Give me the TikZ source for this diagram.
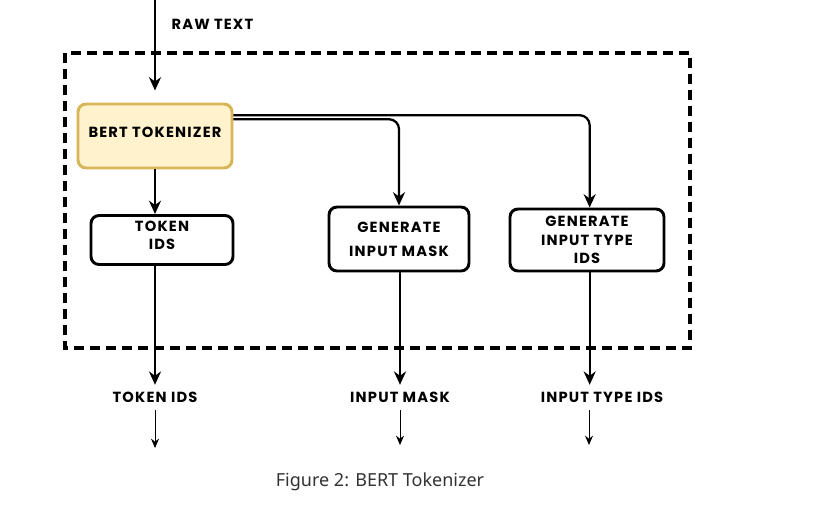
\documentclass[tikz,border=0pt]{standalone}
\usepackage{fontspec}
\setmainfont{Noto Sans}
\newfontfamily\boxfont{Poppins}[LetterSpace=8]
\usepackage{xcolor}
\usepackage{tikz}
\usetikzlibrary{arrows.meta}

\definecolor{tokfill}{RGB}{255,242,204}
\definecolor{tokdraw}{RGB}{214,182,86}
\definecolor{capgray}{RGB}{51,51,51}

\begin{document}
\begin{tikzpicture}[x=0.75pt,y=0.75pt,yscale=-1,xscale=1,
  stepbox/.style={draw=black,line width=2.2pt,rounded corners=6pt,align=center,inner sep=1pt,font=\boxfont\bfseries\fontsize{11}{14}\selectfont},
  lbl/.style={inner sep=1pt,font=\boxfont\bfseries\fontsize{11}{14}\selectfont},
  flow/.style={line width=1.7pt,-{Stealth[length=10pt,width=9pt]}},
  thinflow/.style={line width=0.75pt,-{Stealth[length=7pt,width=6pt]}}]
\useasboundingbox (0,0) rectangle (836,504);

%Dashed frame
\draw [line width=2.6pt,dash pattern=on 7.5pt off 4.5pt] (65,53) rectangle (690,348);

% Boxes
\node [stepbox,fill=tokfill,draw=tokdraw,minimum width=115.5pt,minimum height=48pt] (bert) at (155,136) {BERT TOKENIZER\\[-8pt]};
\node [stepbox,minimum width=106.5pt,minimum height=36.75pt] (tokenids) at (162,240) {TOKEN\\IDS\\[-7pt]};
\node [stepbox,minimum width=105pt,minimum height=48pt] (mask) at (399,239) {GENERATE\\[4pt]INPUT MASK};
\node [stepbox,minimum width=115.5pt,minimum height=46.5pt] (typeids) at (587,240) {GENERATE\\INPUT TYPE\\IDS};

% Text Node
\node [lbl,anchor=west] (raw) at (170,24) {RAW TEXT};
\node [lbl] (lbltok) at (155,397) {TOKEN IDS};
\node [lbl] (lblmask) at (400,397) {INPUT MASK};
\node [lbl] (lbltype) at (602,397) {INPUT TYPE IDS};
\node [font=\fontsize{13.5}{16}\selectfont,text=capgray] (caption) at (380,482) {Figure 2: BERT Tokenizer};

\coordinate (rawstart) at (155,0);
\coordinate (endtok) at (155,448);
\coordinate (endmask) at (400,445);
\coordinate (endtype) at (589,445);

% Arrows
\draw [flow,shorten >=9pt] (rawstart) -- (bert.north);
\draw [flow] (bert.south) -- (bert.south |- tokenids.north);
\draw [flow,rounded corners=7.5pt] ([yshift=12.5pt]bert.north east) -| (mask.north);
\draw [flow,rounded corners=7.5pt] ([yshift=9.5pt]bert.north east) -| ([xshift=2pt]typeids.north);
\draw [flow,shorten >=4pt] (bert.south |- tokenids.south) -- (lbltok.north);
\draw [flow,shorten >=4pt] (lblmask.north |- mask.south) -- (lblmask.north);
\draw [flow,shorten >=4pt] ([xshift=2pt]typeids.south) -- ([xshift=2pt]typeids.south |- lbltype.north);
\draw [thinflow] (lbltok.south) ++(0,6) -- (endtok);
\draw [thinflow] (lblmask.south) ++(0,6) -- (endmask);
\draw [thinflow] (endtype |- lbltype.south) ++(0,6) -- (endtype);

\end{tikzpicture}
\end{document}
